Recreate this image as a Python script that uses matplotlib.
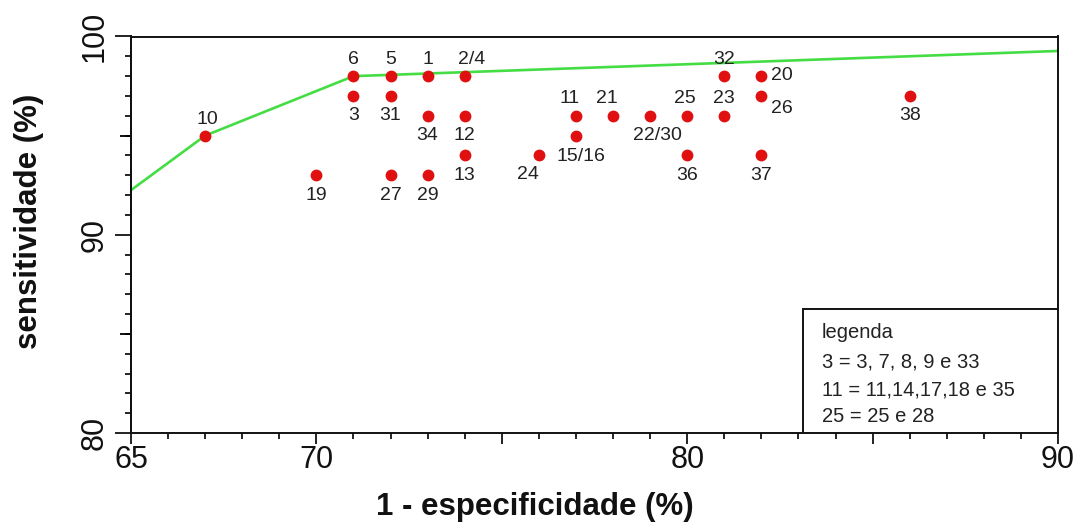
import matplotlib
matplotlib.use('Agg')
import matplotlib.pyplot as plt
from matplotlib.ticker import MultipleLocator, FixedLocator
from matplotlib.patches import Rectangle

plt.rcParams['font.family'] = ['Liberation Sans', 'DejaVu Sans']

# estudos (rótulo, 1 - especificidade, sensitividade)
estudos = ['10', '6', '3', '5', '31', '1', '34', '29', '27', '19', '2/4', '12', '13',
           '24', '11', '15/16', '21', '22/30', '25', '36', '32', '23', '20', '26', '37', '38']
fpr = [67, 71, 71, 72, 72, 73, 73, 73, 72, 70, 74, 74, 74,
       76, 77, 77, 78, 79, 80, 80, 81, 81, 82, 82, 82, 86]
sens = [95, 98, 97, 98, 97, 98, 96, 93, 93, 93, 98, 96, 94,
        94, 96, 95, 96, 96, 96, 94, 98, 96, 98, 97, 94, 97]

# curva ajustada
curva_x = [65, 67, 71, 90]
curva_y = [92.25, 95.0, 98.0, 99.27]

legenda = ['legenda', '3 = 3, 7, 8, 9 e 33', '11 = 11,14,17,18 e 35', '25 = 25 e 28']

# posição dos rótulos em pixels em relação ao ponto
ACIMA = (0, 17)
ABAIXO = (0, -20)
pos_rotulo = {
    '10': (2, 16), '3': ABAIXO, '31': ABAIXO, '34': ABAIXO, '29': ABAIXO, '27': ABAIXO,
    '19': ABAIXO, '2/4': (7, 17), '12': ABAIXO, '13': ABAIXO, '24': (-11, -19),
    '11': (-6, 17), '15/16': (5, -21), '21': (-6, 17), '22/30': (7, -20), '25': (-2, 17),
    '36': ABAIXO, '23': (0, 17), '32': (0, 17), '20': (21, 1), '26': (21, -13),
    '37': ABAIXO, '38': ABAIXO,
}

W, H = 1078, 526
L, R, T, B = 131, 1058, 36.5, 433

fig = plt.figure(figsize=(W / 100, H / 100), dpi=100)
ax = fig.add_axes([L / W, 1 - B / H, (R - L) / W, (B - T) / H])

ax.plot(curva_x, curva_y, color='#44dd44', lw=1.9, zorder=2)
ax.plot(fpr, sens, 'o', color='#e01010', ms=8.5, mec='none', zorder=3)

for rot, x, y in zip(estudos, fpr, sens):
    off = pos_rotulo.get(rot, ACIMA)
    ax.annotate(rot, (x, y), xytext=off, textcoords='offset pixels',
                ha='center', va='center', fontsize=14, color='#222222', zorder=4)

ax.set_xlim(65, 90)
ax.set_ylim(80, 100)

ax.xaxis.set_major_locator(FixedLocator([65, 70, 75, 80, 85, 90]))
ax.set_xticklabels(['65', '70', '', '80', '', '90'])
ax.xaxis.set_minor_locator(MultipleLocator(1))
ax.yaxis.set_major_locator(FixedLocator([80, 90, 100]))
ax.yaxis.set_minor_locator(MultipleLocator(1))

ax.tick_params(axis='x', which='major', direction='out', length=8, width=1.3,
               labelsize=22, pad=1, colors='#111111')
ax.tick_params(axis='x', which='minor', direction='out', length=4.5, width=1.2)
ax.tick_params(axis='y', which='major', direction='out', length=11.5, width=1.3,
               labelsize=22, pad=4, colors='#111111')
ax.tick_params(axis='y', which='minor', direction='out', length=4.5, width=1.2)
for lab in ax.get_yticklabels():
    lab.set_rotation(90)
    lab.set_va('center')
    lab.set_ha('right')

# ticks intermediários 85 e 95
sec = ax.secondary_yaxis('left')
sec.set_yticks([85, 95])
sec.set_yticklabels(['', ''])
sec.tick_params(axis='y', which='major', direction='out', length=8, width=1.3)
sec.tick_params(axis='y', which='minor', length=0)
sec.spines['left'].set_linewidth(1.4)

for s in ax.spines.values():
    s.set_linewidth(1.4)
    s.set_color('#111111')

# caixa da legenda
caixa = Rectangle(((803 - L) / (R - L), 0), (R - 803) / (R - L), (B - 309) / (B - T),
                  transform=ax.transAxes, facecolor='white',
                  edgecolor='#111111', lw=1.4, zorder=5)
ax.add_patch(caixa)
for linha, base in zip(legenda, [338, 367, 395, 422]):
    ax.text((822 - L) / (R - L), (B - base) / (B - T), linha, transform=ax.transAxes,
            fontsize=14.5, va='baseline', ha='left', color='#222222', zorder=6)

fig.text(535 / W, 1 - 507 / H, '1 - especificidade (%)', ha='center', va='center',
         fontsize=22.5, fontweight='bold', color='#111111')
fig.text(29 / W, 1 - 221 / H, 'sensitividade (%)', ha='center', va='center',
         rotation=90, fontsize=22.5, fontweight='bold', color='#111111')

fig.savefig('out.png', dpi=100, facecolor='white')
